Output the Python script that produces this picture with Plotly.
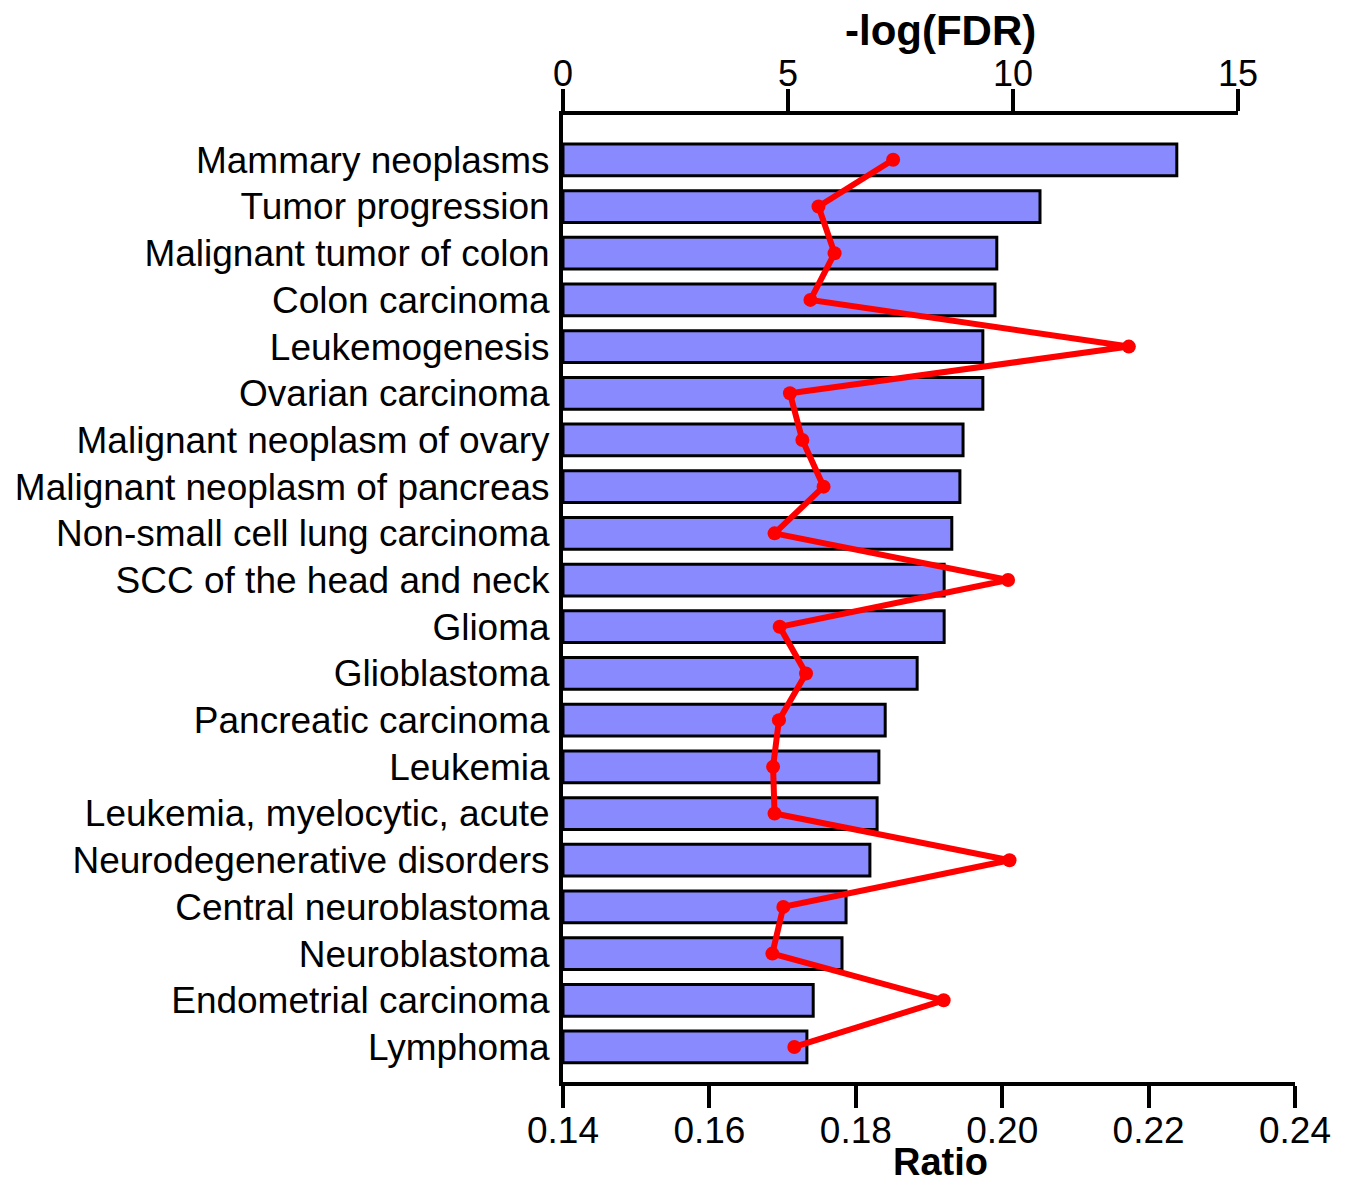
import plotly.graph_objects as go

categories = [
    "Mammary neoplasms", "Tumor progression", "Malignant tumor of colon",
    "Colon carcinoma", "Leukemogenesis", "Ovarian carcinoma",
    "Malignant neoplasm of ovary", "Malignant neoplasm of pancreas",
    "Non-small cell lung carcinoma", "SCC of the head and neck", "Glioma",
    "Glioblastoma", "Pancreatic carcinoma", "Leukemia",
    "Leukemia, myelocytic, acute", "Neurodegenerative disorders",
    "Central neuroblastoma", "Neuroblastoma", "Endometrial carcinoma",
    "Lymphoma",
]
neg_log_fdr = [13.64, 10.60, 9.64, 9.60, 9.33, 9.33, 8.89, 8.82, 8.64, 8.47,
               8.47, 7.87, 7.16, 7.02, 6.98, 6.82, 6.29, 6.20, 5.56, 5.42]
ratio = [0.1851, 0.1749, 0.1771, 0.1738, 0.2173, 0.1710, 0.1727, 0.1756,
         0.1689, 0.2008, 0.1696, 0.1732, 0.1695, 0.1687, 0.1689, 0.2010,
         0.1701, 0.1686, 0.1920, 0.1716]
fdr_ticks = [0, 5, 10, 15]
ratio_ticks = [0.14, 0.16, 0.18, 0.20, 0.22, 0.24]

FONT = "Liberation Sans, Arial, sans-serif"
OFF = 8  # default page body margin
W, H = 1355 - 2 * OFF, 1194 - 2 * OFF
# target page pixel positions converted to figure coordinates
L, R, T, B = 563 - OFF, 1295 - OFF, 115 - OFF, 1082 - OFF
TOP15 = 1238 - OFF

fig = go.Figure()
fig.add_trace(go.Bar(
    y=categories, x=neg_log_fdr, orientation="h", xaxis="x", yaxis="y",
    marker=dict(color="#8A8AFF", line=dict(color="black", width=3)),
    width=0.68, showlegend=False,
))
fig.add_trace(go.Scatter(
    y=categories, x=ratio, xaxis="x2", yaxis="y", mode="lines+markers",
    line=dict(color="#FF0000", width=6),
    marker=dict(color="#FF0000", size=14), showlegend=False,
))

pw, ph = R - L, B - T


def px_to_paper(x, y):
    return (x - OFF - L) / pw, (B - (y - OFF)) / ph


fig.update_layout(
    width=W, height=H, autosize=False,
    margin=dict(l=L, r=W - R, t=T, b=H - B, pad=0),
    plot_bgcolor="rgba(0,0,0,0)", paper_bgcolor="white",
    font=dict(family=FONT, color="black", size=37),
    xaxis=dict(
        domain=[0, (TOP15 - L) / (R - L)], range=[0, 15], side="top",
        anchor="y", tickvals=fdr_ticks, ticks="outside", ticklen=22,
        tickwidth=4, tickcolor="black", showline=True, linewidth=4,
        linecolor="black", showgrid=False, zeroline=False, automargin=False,
        ticklabelstandoff=-11, tickfont=dict(size=36, family=FONT),
    ),
    xaxis2=dict(
        domain=[0, 1], range=[0.14, 0.24], side="bottom", anchor="y",
        tickvals=ratio_ticks, tickformat=".2f", ticks="outside", ticklen=22,
        tickwidth=4, tickcolor="black", showline=True, linewidth=4,
        linecolor="black", showgrid=False, zeroline=False, automargin=False,
        ticklabelstandoff=-9, tickfont=dict(size=37, family=FONT),
    ),
    yaxis=dict(
        domain=[0, 1], anchor="x", type="category",
        range=[19.75, -0.96], showline=True, linewidth=4, linecolor="black",
        showgrid=False, zeroline=False, ticks="", ticklabelstandoff=2,
        automargin=False, tickfont=dict(size=37, family=FONT),
    ),
)
tx, ty = px_to_paper(940, 30)
bx, by = px_to_paper(940, 1162)
fig.add_annotation(text="<b>-log(FDR)</b>", x=tx, y=ty, xref="paper",
                   yref="paper", xanchor="center", yanchor="middle",
                   showarrow=False, font=dict(size=42, family=FONT))
fig.add_annotation(text="<b>Ratio</b>", x=bx, y=by, xref="paper",
                   yref="paper", xanchor="center", yanchor="middle",
                   showarrow=False, font=dict(size=38, family=FONT))

fig.write_html("out.html")
